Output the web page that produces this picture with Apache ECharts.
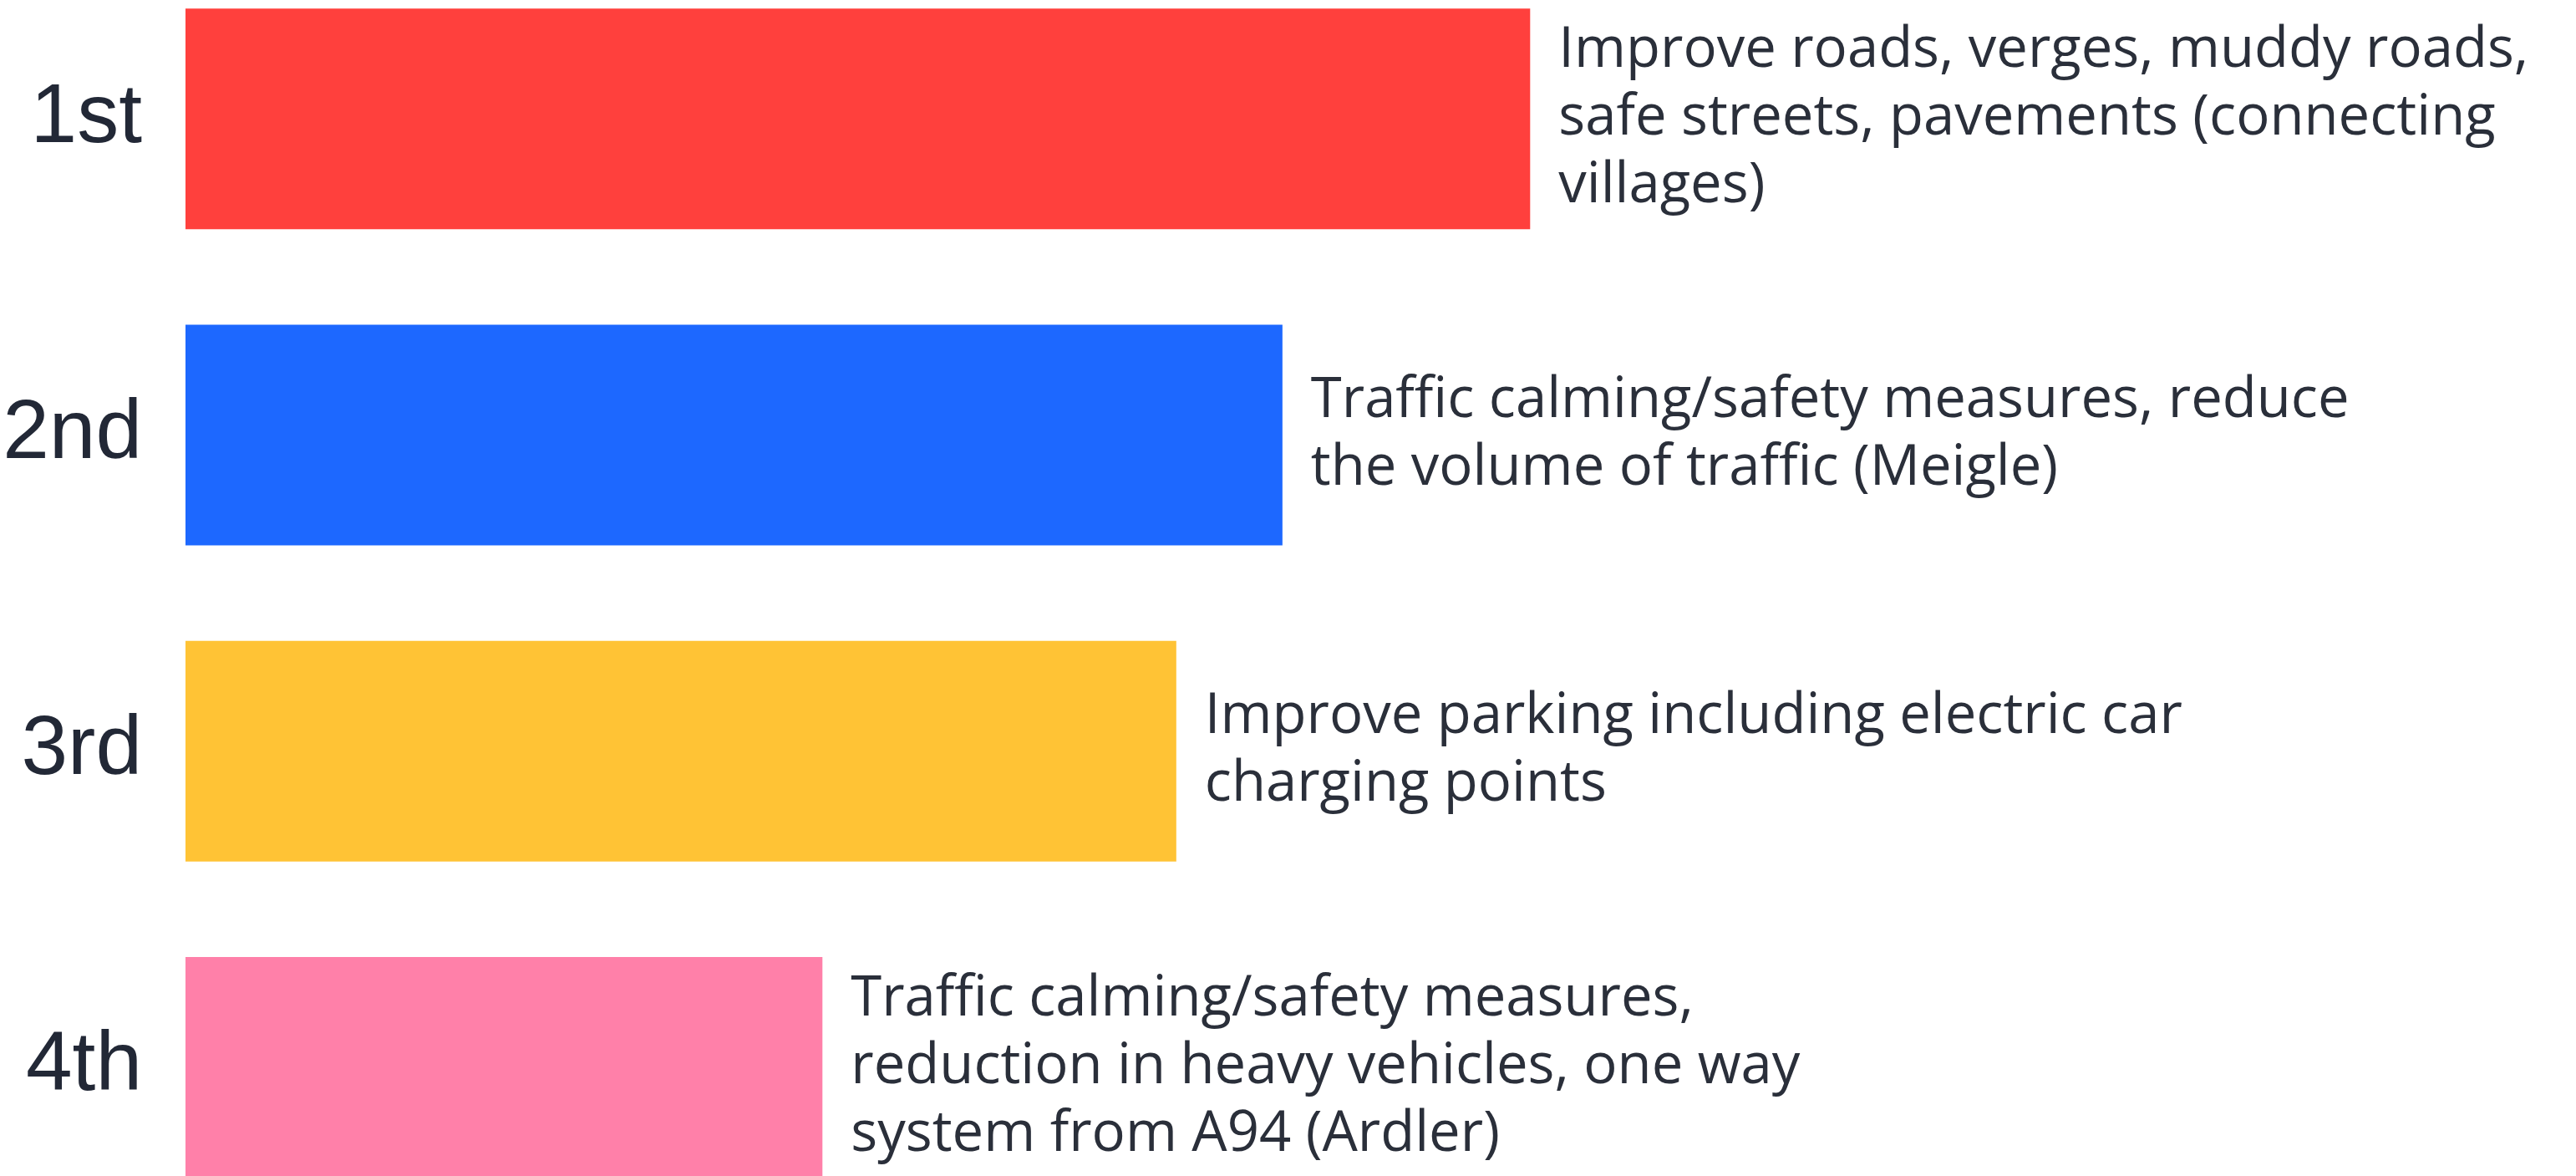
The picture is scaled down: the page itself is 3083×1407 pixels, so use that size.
<!DOCTYPE html>
<html>
<head>
    <meta charset="utf-8"/>
    <title>Priorities</title>
    <script src="https://cdn.jsdelivr.net/npm/echarts@6/dist/echarts.min.js"></script>
    <style>
        html, body { margin: 0; padding: 0; background: #ffffff; }
    </style>
</head>
<body>
<div id="main" style="width: 3083px;height:1407px;"></div>
<script type="text/javascript">
    // ranks shown on the left
    var ranks = ['1st', '2nd', '3rd', '4th'];
    // bar lengths
    var scores = [38, 31, 28, 18];
    var barColors = ['#ff403d', '#1d68ff', '#ffc335', '#ff80a9'];
    // text beside each bar, wrapped as in the original
    var descriptions = [
        'Improve roads, verges, muddy roads,\nsafe streets, pavements (connecting\nvillages)',
        'Traffic calming/safety measures, reduce\nthe volume of traffic (Meigle)',
        'Improve parking including electric car\ncharging points',
        'Traffic calming/safety measures,\nreduction in heavy vehicles, one way\nsystem from A94 (Ardler)'
    ];

    var myChart = echarts.init(document.getElementById('main'));

    var option = {
        backgroundColor: '#ffffff',
        animation: false,
        grid: {
            left: 222,
            width: 2541,
            top: -47,
            bottom: -59,
            outerBoundsMode: 'none'
        },
        xAxis: {
            type: 'value',
            min: 0,
            max: 60,
            show: false
        },
        yAxis: {
            type: 'category',
            inverse: true,
            data: ranks,
            axisLine: { show: false },
            axisTick: { show: false },
            splitLine: { show: false },
            axisLabel: {
                margin: 52,
                fontFamily: 'Liberation Sans',
                fontSize: 100,
                color: '#222836',
                padding: [14, 0, 0, 0]
            }
        },
        series: [{
            type: 'bar',
            barWidth: 264,
            data: scores.map(function (v, i) {
                return { value: v, itemStyle: { color: barColors[i] } };
            }),
            label: {
                show: true,
                position: 'right',
                distance: 34,
                align: 'left',
                fontFamily: 'Open Sans',
                fontSize: 67,
                lineHeight: 81,
                color: '#2a2f3a',
                formatter: function (p) {
                    return descriptions[p.dataIndex];
                }
            }
        }]
    };

    myChart.setOption(option);
</script>
</body>
</html>
